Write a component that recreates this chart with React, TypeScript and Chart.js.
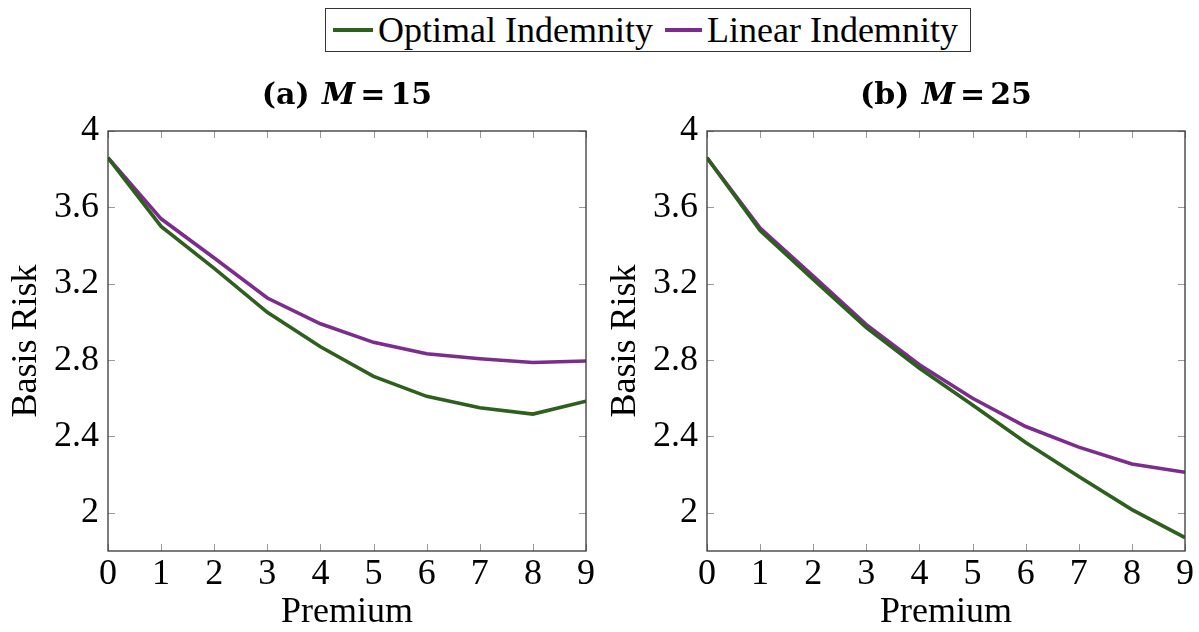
import React, { useEffect, useRef } from 'react';
import { Chart, registerables } from 'chart.js';

Chart.register(...registerables);

// Premium levels on the x axis
const premium = [0, 1, 2, 3, 4, 5, 6, 7, 8, 9];

// Basis risk for M = 15
const optimalM15 = [3.86, 3.5, 3.28, 3.05, 2.87, 2.715, 2.61, 2.55, 2.517, 2.585];
const linearM15 = [3.86, 3.54, 3.335, 3.125, 2.99, 2.893, 2.833, 2.807, 2.787, 2.795];

// Basis risk for M = 25
const optimalM25 = [3.86, 3.478, 3.222, 2.97, 2.757, 2.565, 2.368, 2.19, 2.017, 1.87];
const linearM25 = [3.86, 3.492, 3.24, 2.986, 2.776, 2.6, 2.452, 2.344, 2.256, 2.212];

const xTicks = [0, 1, 2, 3, 4, 5, 6, 7, 8, 9];
const yTicks = [2, 2.4, 2.8, 3.2, 3.6, 4];
const yRange = [1.8, 4];

const seriesNames = ['Optimal Indemnity', 'Linear Indemnity'];
const panelLabels = ['(a)', '(b)'];
const panelM = ['15', '25'];

const GREEN = '#2d5f1d';
const PURPLE = '#7c2c8d';
const SERIF = '"Liberation Serif", "Times New Roman", serif';
const TITLE_SERIF = '"DejaVu Serif", "Liberation Serif", serif';

// Draws the boxed frame, inward tick marks on all four sides, and the panel title.
const framePlugin = {
  id: 'panelFrame',
  beforeDatasetsDraw(chart: any) {
    const { ctx, chartArea, scales } = chart;
    const len = 7;
    ctx.save();
    ctx.strokeStyle = '#9a9a9a';
    ctx.lineWidth = 1;
    ctx.beginPath();
    for (const v of xTicks) {
      const px = Math.round(scales.x.getPixelForValue(v)) + 0.5;
      ctx.moveTo(px, chartArea.bottom);
      ctx.lineTo(px, chartArea.bottom - len);
      ctx.moveTo(px, chartArea.top);
      ctx.lineTo(px, chartArea.top + len);
    }
    for (const v of yTicks) {
      const py = Math.round(scales.y.getPixelForValue(v)) + 0.5;
      ctx.moveTo(chartArea.left, py);
      ctx.lineTo(chartArea.left + len, py);
      ctx.moveTo(chartArea.right, py);
      ctx.lineTo(chartArea.right - len, py);
    }
    ctx.stroke();
    ctx.restore();
  },
  afterDatasetsDraw(chart: any) {
    const { ctx, chartArea } = chart;
    ctx.save();
    ctx.strokeStyle = '#363636';
    ctx.lineWidth = 1.3;
    ctx.strokeRect(
      chartArea.left,
      chartArea.top,
      chartArea.right - chartArea.left,
      chartArea.bottom - chartArea.top
    );
    ctx.restore();
  },
  afterDraw(chart: any, _args: any, opts: any) {
    const { ctx, chartArea } = chart;
    const size = 30;
    const bold = `bold ${size}px ${TITLE_SERIF}`;
    const boldItalic = `italic bold ${size}px ${TITLE_SERIF}`;
    const parts = [
      { text: opts.label + ' ', font: bold, gap: 2 },
      { text: 'M', font: boldItalic, gap: 5 },
      { text: '=', font: bold, gap: 5 },
      { text: opts.value, font: bold, gap: 0 },
    ];
    ctx.save();
    let total = 0;
    const widths = parts.map((p) => {
      ctx.font = p.font;
      const w = ctx.measureText(p.text).width + p.gap;
      total += w;
      return w;
    });
    let x = (chartArea.left + chartArea.right) / 2 - total / 2;
    ctx.fillStyle = '#000';
    ctx.textBaseline = 'middle';
    ctx.textAlign = 'left';
    parts.forEach((p, i) => {
      ctx.font = p.font;
      ctx.fillText(p.text, x, opts.y);
      x += widths[i];
    });
    ctx.restore();
  },
};

type PanelProps = {
  left: number;
  label: string;
  m: string;
  optimal: number[];
  linear: number[];
};

function Panel({ left, label, m, optimal, linear }: PanelProps) {
  const ref = useRef<HTMLCanvasElement>(null);

  useEffect(() => {
    if (!ref.current) return;
    const tickFont = { family: SERIF, size: 36, lineHeight: 1.2 };
    const chart = new Chart(ref.current, {
      type: 'line',
      data: {
        datasets: [
          {
            label: seriesNames[0],
            data: premium.map((p, i) => ({ x: p, y: optimal[i] })),
            borderColor: GREEN,
            backgroundColor: GREEN,
            borderWidth: 3.6,
            pointRadius: 0,
            tension: 0,
          },
          {
            label: seriesNames[1],
            data: premium.map((p, i) => ({ x: p, y: linear[i] })),
            borderColor: PURPLE,
            backgroundColor: PURPLE,
            borderWidth: 3.6,
            pointRadius: 0,
            tension: 0,
          },
        ],
      },
      options: {
        responsive: false,
        animation: false,
        events: [],
        layout: { padding: { top: 131, right: 14, left: 0, bottom: 0 } },
        plugins: {
          legend: { display: false },
          tooltip: { enabled: false },
          panelFrame: { label, value: m, y: 96 },
        } as any,
        scales: {
          x: {
            type: 'linear',
            min: 0,
            max: 9,
            grid: { display: false, drawTicks: false },
            border: { display: false },
            afterBuildTicks: (s: any) => {
              s.ticks = xTicks.map((v) => ({ value: v }));
            },
            afterFit: (s: any) => {
              s.height = 81;
            },
            ticks: {
              font: tickFont,
              color: '#000',
              padding: 2,
              maxRotation: 0,
              autoSkip: false,
              callback: (v: any) => String(v),
            },
            title: {
              display: true,
              text: 'Premium',
              color: '#000',
              font: { family: SERIF, size: 36, lineHeight: 1 },
              padding: { top: 0, bottom: 1 },
            },
          },
          y: {
            type: 'linear',
            min: yRange[0],
            max: yRange[1],
            grid: { display: false, drawTicks: false },
            border: { display: false },
            afterBuildTicks: (s: any) => {
              s.ticks = yTicks.map((v) => ({ value: v }));
            },
            afterFit: (s: any) => {
              s.width = 108;
            },
            ticks: {
              font: tickFont,
              color: '#000',
              padding: 9,
              autoSkip: false,
              callback: (v: any) => String(Math.round(v * 10) / 10),
            },
            title: {
              display: true,
              text: 'Basis Risk',
              color: '#000',
              font: { family: SERIF, size: 36, lineHeight: 1 },
              padding: { top: 9, bottom: 0 },
            },
          },
        },
      },
      plugins: [framePlugin],
    });
    return () => chart.destroy();
  }, [label, m, optimal, linear]);

  return (
    <canvas
      ref={ref}
      width={600}
      height={632}
      style={{ position: 'absolute', left, top: 0 }}
    />
  );
}

function LegendEntry({ color, text, lineWidth, gapBefore }: { color: string; text: string; lineWidth: number; gapBefore: number }) {
  return (
    <div style={{ display: 'flex', alignItems: 'center', marginLeft: gapBefore }}>
      <div style={{ width: lineWidth, height: 4, background: color, marginRight: 5 }} />
      <span>{text}</span>
    </div>
  );
}

export default function App() {
  return (
    <div
      style={{
        position: 'fixed',
        left: 0,
        top: 0,
        width: 1199,
        height: 632,
        background: '#fff',
        overflow: 'hidden',
      }}
    >
      <div
        style={{
          position: 'absolute',
          left: 325,
          top: 8,
          height: 42,
          display: 'flex',
          alignItems: 'center',
          border: '1.3px solid #363636',
          paddingLeft: 7,
          paddingRight: 12,
          fontFamily: SERIF,
          fontSize: 36,
          lineHeight: '42px',
          color: '#000',
          whiteSpace: 'nowrap',
        }}
      >
        <LegendEntry color={GREEN} text={seriesNames[0]} lineWidth={40} gapBefore={0} />
        <LegendEntry color={PURPLE} text={seriesNames[1]} lineWidth={37} gapBefore={12} />
      </div>
      <Panel left={0} label={panelLabels[0]} m={panelM[0]} optimal={optimalM15} linear={linearM15} />
      <Panel left={599} label={panelLabels[1]} m={panelM[1]} optimal={optimalM25} linear={linearM25} />
    </div>
  );
}
